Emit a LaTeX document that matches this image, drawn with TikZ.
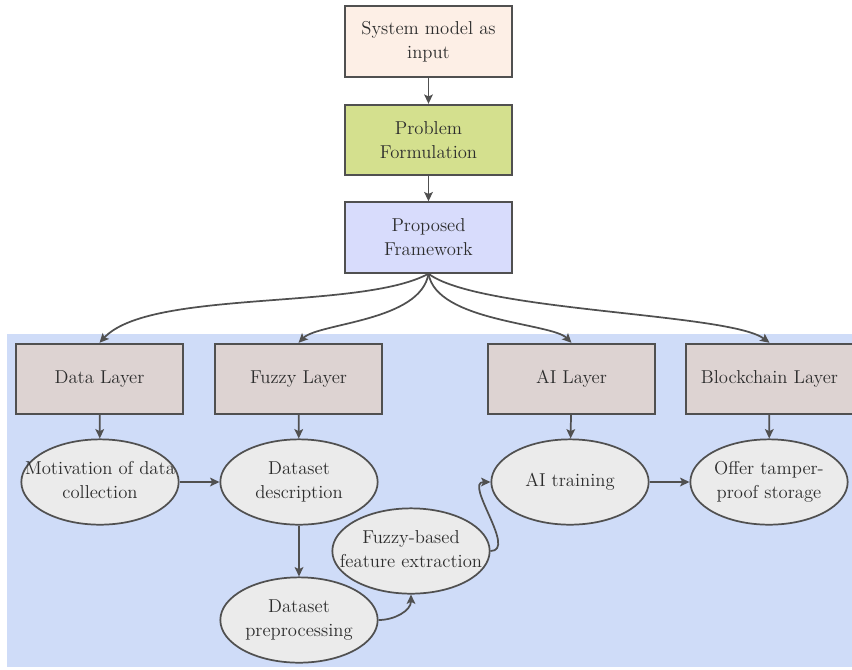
\documentclass[tikz,border=0pt]{standalone}
\usepackage{xcolor}
\definecolor{bgblue}{RGB}{207,220,248}
\definecolor{peach}{RGB}{253,239,230}
\definecolor{olivebox}{RGB}{212,224,142}
\definecolor{lavender}{RGB}{216,220,252}
\definecolor{layerfill}{RGB}{221,211,210}
\definecolor{ovalfill}{RGB}{235,235,235}
\definecolor{linegray}{RGB}{80,80,80}
\definecolor{txtgray}{RGB}{45,45,45}
\usetikzlibrary{positioning,arrows.meta,shapes.geometric}
\newcommand{\ovaltext}[1]{\makebox[0pt]{\begin{tabular}{@{}c@{}}#1\end{tabular}}}

\begin{document}
\begin{tikzpicture}[x=0.75pt,y=-0.75pt,font=\fontsize{14}{18}\selectfont,
	box/.style={draw=linegray,line width=1.3pt,minimum width=125pt,minimum height=53pt,inner sep=0pt,align=center,text=txtgray},
	layer/.style={box,fill=layerfill},
	oval/.style={ellipse,draw=linegray,line width=1.3pt,fill=ovalfill,minimum width=118pt,minimum height=64pt,inner sep=0pt,text=txtgray},
	arr/.style={draw=linegray,line width=1.3pt,-{Stealth[length=7pt,width=6.5pt,inset=1.5pt]}}]
			\useasboundingbox (0,0) rectangle (852,669);
			\fill[bgblue] (7,334) rectangle (852,667);
			
			%%% top chain
			\node[box,fill=peach] (sys) at (428.5,41.5) {System model as\\input};
			\node[box,fill=olivebox] (prob) at (428.5,140) {Problem\\Formulation};
			\node[box,fill=lavender] (frame) at (428.5,237.5) {Proposed\\Framework};
			
			%%% layers
			\node[layer] (data) at (99.5,379) {Data Layer};
			\node[layer] (fuzzy) at (298.5,379) {Fuzzy Layer};
			\node[layer] (ai) at (571.5,379) {AI Layer};
			\node[layer] (chain) at (769.5,379) {Blockchain Layer};
			
			%%% steps
			\node[oval] (motiv) at (100,482) {\ovaltext{Motivation of data\\collection}};
			\node[oval] (desc) at (299,482) {\ovaltext{Dataset\\description}};
			\node[oval] (prep) at (299,620) {\ovaltext{Dataset\\preprocessing}};
			\node[oval] (feat) at (411,551) {\ovaltext{Fuzzy-based\\feature extraction}};
			\node[oval] (train) at (570,482) {\ovaltext{AI training}};
			\node[oval] (store) at (769,482) {\ovaltext{Offer tamper-\\proof storage}};
			
			\draw[arr] (sys) -- (prob);
			\draw[arr] (prob) -- (frame);
			
			\draw[arr] (frame.south) .. controls +(-68,37) and +(50,-54) .. (data.north);
			\draw[arr] (frame.south) .. controls +(-8,48) and +(20,-20) .. (fuzzy.north);
			\draw[arr] (frame.south) .. controls +(8,48) and +(-20,-20) .. (ai.north);
			\draw[arr] (frame.south) .. controls +(50,38) and +(-40,-30) .. (chain.north);
			
			\draw[arr] (data) -- (motiv);
			\draw[arr] (fuzzy) -- (desc);
			\draw[arr] (ai) -- (train);
			\draw[arr] (chain) -- (store);
			
			\draw[arr] (motiv) -- (desc);
			\draw[arr] (desc) -- (prep);
			\draw[arr] (prep.east) to[out=0,in=-90] (feat.south);
			\draw[arr] (feat.east) to[out=0,in=180] (train.west);
			\draw[arr] (train) -- (store);
			
		\end{tikzpicture}
\end{document}
